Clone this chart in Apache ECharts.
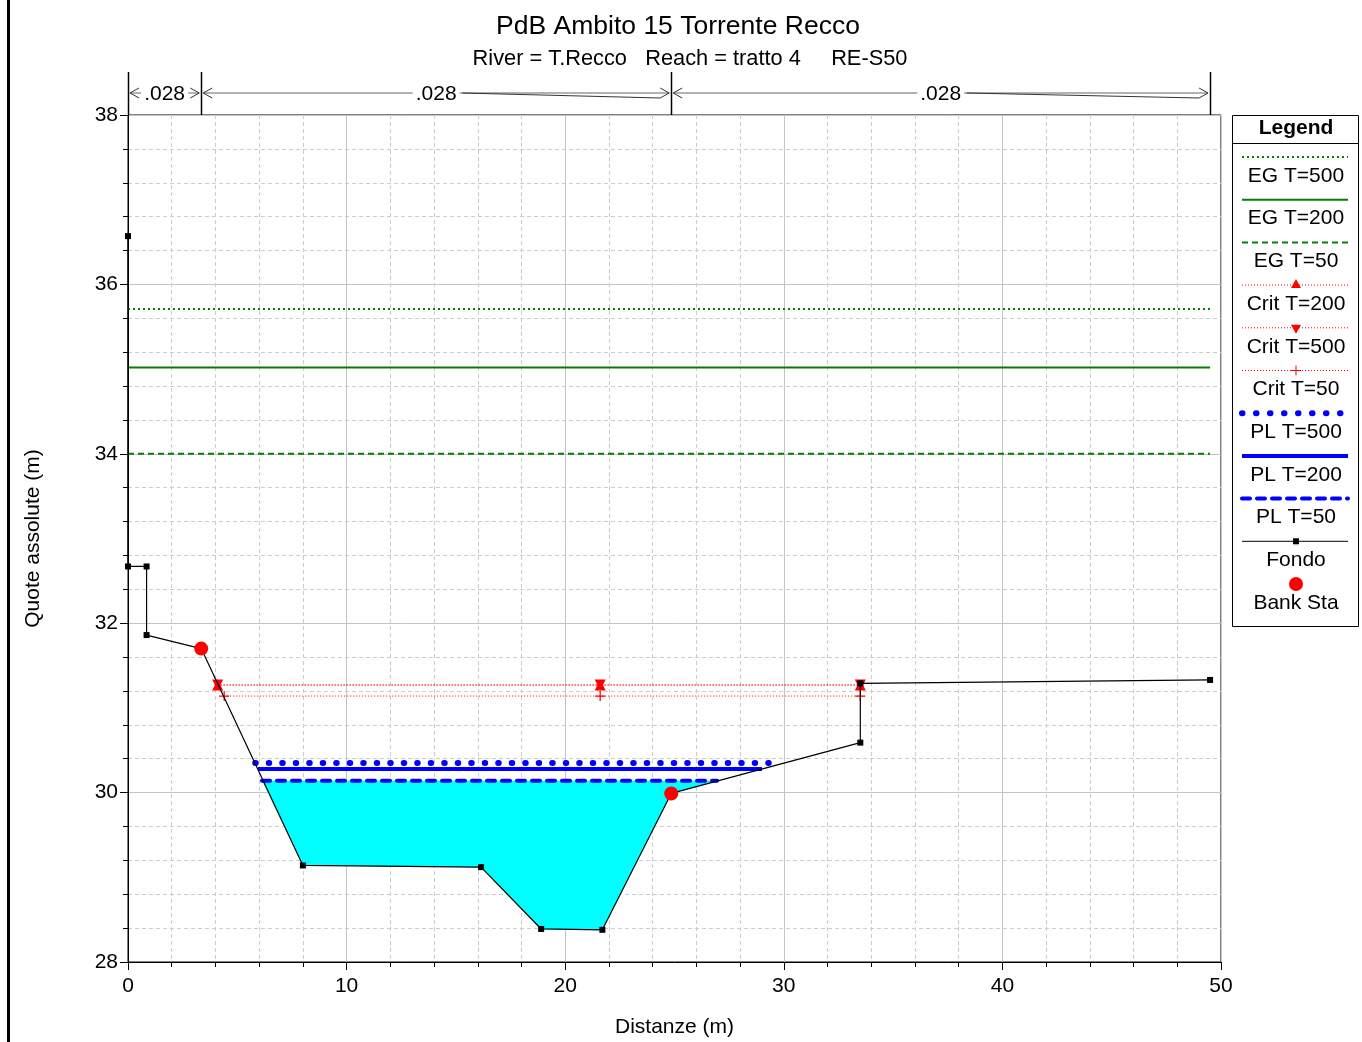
<!DOCTYPE html>
<html>
<head>
<meta charset="utf-8">
<title>PdB Ambito 15 Torrente Recco</title>
<script src="https://cdn.jsdelivr.net/npm/echarts@6.0.0/dist/echarts.min.js"></script>
<style>
  html, body { margin: 0; padding: 0; background: #fff; }
  #chart { width: 1362px; height: 1042px; }
</style>
</head>
<body>
<div id="chart"></div>
<script>
// sezione RE-S50, valori
var fondoX = [0, 0, 0.85, 0.85, 3.35, 8.0, 16.15, 18.9, 21.7, 24.85, 33.5, 33.5, 49.5];
var fondoY = [36.57, 32.67, 32.67, 31.86, 31.70, 29.14, 29.12, 28.39, 28.38, 29.99, 30.59, 31.29, 31.33];

var bankX = [3.35, 24.85];
var bankY = [31.70, 29.99];

var egX = [0, 49.5];
var eg500 = 35.71;
var eg200 = 35.02;
var eg50 = 34.00;

var critX = [4.1, 21.6, 33.5];
var crit50X = [4.4, 21.6, 33.5];
var crit200 = 31.27;
var crit500 = 31.27;
var crit50 = 31.14;

var pl500X = [5.82, 29.87];
var pl200X = [5.95, 29.0];
var pl50X = [6.13, 26.95];
var pl500 = 30.35;
var pl200 = 30.28;
var pl50 = 30.14;

// area bagnata (T=50)
var waterX = [6.13, 8.0, 16.15, 18.9, 21.7, 24.85, 26.95];
var waterY = [30.14, 29.14, 29.12, 28.39, 28.38, 29.99, 30.14];

// tratti di Manning
var nStations = [0, 3.35, 24.85, 49.5];
var nValues = ['.028', '.028', '.028'];

var legendNames = ['EG T=500', 'EG T=200', 'EG T=50', 'Crit T=200', 'Crit T=500', 'Crit T=50',
  'PL T=500', 'PL T=200', 'PL T=50', 'Fondo', 'Bank Sta'];

var FONT = 'Liberation Sans, Arial, sans-serif';
var FS = 21;
var GREEN = '#008000';
var RED = '#ff0000';
var BLUE = '#0000ff';
var PLUS = 'path://M3.5,0h1v3.5h3.5v1h-3.5v3.5h-1v-3.5h-3.5v-1h3.5z';

function pairs(xs, y) {
  return xs.map(function (x, i) { return [x, Array.isArray(y) ? y[i] : y]; });
}

var chart = echarts.init(document.getElementById('chart'));

var option = {
  animation: false,
  backgroundColor: '#fff',
  title: [{
    text: 'PdB Ambito 15 Torrente Recco',
    left: 673, top: 8, textAlign: 'center',
    textStyle: { fontFamily: FONT, fontSize: 26.5, fontWeight: 'normal', color: '#000' }
  }, {
    text: 'River = T.Recco   Reach = tratto 4     RE-S50',
    left: 685, top: 43, textAlign: 'center',
    textStyle: { fontFamily: FONT, fontSize: 21.8, fontWeight: 'normal', color: '#000' }
  }],
  grid: {
    left: 128, top: 115, width: 1093, height: 847,
    outerBoundsMode: 'none', containLabel: false,
    show: true, borderColor: '#000', borderWidth: 1
  },
  xAxis: {
    type: 'value', min: 0, max: 50, interval: 10,
    name: 'Distanze (m)', nameLocation: 'middle', nameGap: 55,
    nameTextStyle: { fontFamily: FONT, fontSize: FS, color: '#000' },
    axisLine: { show: true, onZero: false, lineStyle: { color: '#000', width: 1 } },
    axisTick: { show: true, length: 8, lineStyle: { color: '#000' } },
    minorTick: { show: true, splitNumber: 5, length: 5, lineStyle: { color: '#000' } },
    axisLabel: { fontFamily: FONT, fontSize: FS, color: '#000', margin: 14 },
    splitLine: { show: true, lineStyle: { color: '#c4c4c4', width: 1 } },
    minorSplitLine: { show: true, lineStyle: { color: '#cccccc', width: 1, type: [4, 3] } }
  },
  yAxis: {
    type: 'value', min: 28, max: 38, interval: 2,
    name: 'Quote assolute (m)', nameLocation: 'middle', nameGap: 84,
    nameTextStyle: { fontFamily: FONT, fontSize: FS, color: '#000' },
    axisLine: { show: true, onZero: false, lineStyle: { color: '#000', width: 1 } },
    axisTick: { show: true, length: 8, lineStyle: { color: '#000' } },
    minorTick: { show: true, splitNumber: 5, length: 5, lineStyle: { color: '#000' } },
    axisLabel: { fontFamily: FONT, fontSize: FS, color: '#000', margin: 10 },
    splitLine: { show: true, lineStyle: { color: '#c4c4c4', width: 1 } },
    minorSplitLine: { show: true, lineStyle: { color: '#cccccc', width: 1, type: [4, 3] } }
  },
  series: [{
    name: 'Area', type: 'custom', z: 1,
    data: pairs(waterX, waterY),
    renderItem: function (params, api) {
      if (params.dataIndex !== 0) return;
      var pts = waterX.map(function (x, i) { return api.coord([x, waterY[i]]); });
      return { type: 'polygon', shape: { points: pts }, style: { fill: '#00ffff' } };
    }
  }, {
    name: 'EG T=500', type: 'line', symbol: 'none', z: 3,
    data: pairs(egX, eg500),
    lineStyle: { color: GREEN, width: 2, type: [2, 3] }
  }, {
    name: 'EG T=200', type: 'line', symbol: 'none', z: 3,
    data: pairs(egX, eg200),
    lineStyle: { color: GREEN, width: 2 }
  }, {
    name: 'EG T=50', type: 'line', symbol: 'none', z: 3,
    data: pairs(egX, eg50),
    lineStyle: { color: GREEN, width: 2, type: [6, 4] }
  }, {
    name: 'Crit T=200', type: 'line', symbol: 'triangle', symbolSize: 11, z: 4,
    data: pairs(critX, crit200),
    itemStyle: { color: RED },
    lineStyle: { color: RED, width: 1, type: [1, 2] }
  }, {
    name: 'Crit T=500', type: 'line', symbol: 'triangle', symbolRotate: 180, symbolSize: 11, z: 4,
    data: pairs(critX, crit500),
    itemStyle: { color: RED },
    lineStyle: { color: RED, width: 1, type: [1, 2] }
  }, {
    name: 'Crit T=50', type: 'line', symbol: PLUS, symbolSize: 10, z: 4,
    data: pairs(crit50X, crit50),
    itemStyle: { color: RED },
    lineStyle: { color: RED, width: 1, type: [1, 2] }
  }, {
    name: 'PL T=500', type: 'line', symbol: 'none', z: 4,
    data: pairs(pl500X, pl500),
    lineStyle: { color: BLUE, width: 6, type: [0.5, 13], cap: 'round' }
  }, {
    name: 'PL T=200', type: 'line', symbol: 'none', z: 4,
    data: pairs(pl200X, pl200),
    lineStyle: { color: BLUE, width: 4 }
  }, {
    name: 'PL T=50', type: 'line', symbol: 'none', z: 4,
    data: pairs(pl50X, pl50),
    lineStyle: { color: BLUE, width: 4, type: [8, 7], cap: 'round' }
  }, {
    name: 'Fondo', type: 'line', symbol: 'rect', symbolSize: 6, showAllSymbol: true, z: 5,
    data: pairs(fondoX, fondoY),
    itemStyle: { color: '#000' },
    lineStyle: { color: '#000', width: 1.2 }
  }, {
    name: 'Bank Sta', type: 'scatter', symbol: 'circle', symbolSize: 14, z: 6,
    data: pairs(bankX, bankY),
    itemStyle: { color: RED, opacity: 1 }
  }]
};

chart.setOption(option);

// annotazioni sopra il grafico e legenda
var g = [];
var plotTop = 115;
var yArrow = 93;
function px(x) { return chart.convertToPixel({ gridIndex: 0 }, [x, 38])[0]; }
function seg(x1, y1, x2, y2, color, w) {
  g.push({ type: 'line', shape: { x1: x1, y1: y1, x2: x2, y2: y2 },
    style: { stroke: color, lineWidth: w || 1 }, z: 10 });
}

// bordo sinistro
seg(8.5, 0, 8.5, 1042, '#000', 3);

nStations.forEach(function (s) {
  var x = Math.round(px(s)) + 0.5;
  seg(x, 72, x, plotTop, '#000', 1.5);
});
nValues.forEach(function (v, i) {
  var x0 = px(nStations[i]);
  var x1 = px(nStations[i + 1]);
  var cx = (x0 + x1) / 2;
  seg(x0 + 2, yArrow, x1 - 2, yArrow, '#666', 1);
  seg(x0 + 11, yArrow - 5, x0 + 2, yArrow, '#333', 1);
  seg(x0 + 2, yArrow, x0 + 11, yArrow + 5, '#333', 1);
  seg(x1 - 11, yArrow - 5, x1 - 2, yArrow, '#333', 1);
  seg(x1 - 2, yArrow, x1 - 11, yArrow + 5, '#333', 1);
  if (x1 - x0 > 100) seg(cx + 26, yArrow, x1 - 11, yArrow + 5, '#333', 1);
  g.push({ type: 'text', z: 11, style: {
    text: v, x: cx, y: yArrow + 1, align: 'center', verticalAlign: 'middle',
    font: FS + 'px ' + FONT, fill: '#000', backgroundColor: '#fff', padding: [0, 3]
  } });
});

// legenda
var lx = 1232, ly = 115, lw = 126, lh = 511;
g.push({ type: 'rect', z: 10, shape: { x: lx + 0.5, y: ly + 0.5, width: lw, height: lh },
  style: { fill: '#fff', stroke: '#000', lineWidth: 1 } });
g.push({ type: 'text', z: 11, style: { text: 'Legend', x: lx + lw / 2 + 1, y: 128,
  align: 'center', verticalAlign: 'middle', font: 'bold 21px ' + FONT, fill: '#000' } });
seg(lx, 143.5, lx + lw, 143.5, '#000', 1);

var styles = [
  { stroke: GREEN, w: 2, dash: [2, 3] },
  { stroke: GREEN, w: 2 },
  { stroke: GREEN, w: 2, dash: [6, 4] },
  { stroke: RED, w: 1, dash: [1, 2], sym: 'tri' },
  { stroke: RED, w: 1, dash: [1, 2], sym: 'triDown' },
  { stroke: RED, w: 1, dash: [1, 2], sym: 'plus' },
  { stroke: BLUE, w: 6, dash: [0.5, 13.5], cap: 'round' },
  { stroke: BLUE, w: 4 },
  { stroke: BLUE, w: 4, dash: [8, 7], cap: 'round' },
  { stroke: '#000', w: 1, sym: 'rect' },
  { sym: 'circle' }
];
legendNames.forEach(function (name, i) {
  var sy = 157 + i * 42.7;
  var cx = lx + lw / 2 + 1;
  var st = styles[i];
  if (st.stroke) {
    g.push({ type: 'line', z: 11, shape: { x1: lx + 10, y1: sy, x2: lx + 116, y2: sy },
      style: { stroke: st.stroke, lineWidth: st.w, lineDash: st.dash || null, lineCap: st.cap || 'butt' } });
  }
  if (st.sym === 'tri') {
    g.push({ type: 'polygon', z: 12, shape: { points: [[cx, sy - 6], [cx - 5, sy + 3], [cx + 5, sy + 3]] },
      style: { fill: RED } });
  } else if (st.sym === 'triDown') {
    g.push({ type: 'polygon', z: 12, shape: { points: [[cx, sy + 6], [cx - 5, sy - 3], [cx + 5, sy - 3]] },
      style: { fill: RED } });
  } else if (st.sym === 'plus') {
    seg(cx - 5, sy, cx + 5, sy, RED, 1);
    seg(cx, sy - 5, cx, sy + 5, RED, 1);
  } else if (st.sym === 'rect') {
    g.push({ type: 'rect', z: 12, shape: { x: cx - 3, y: sy - 3, width: 6, height: 6 }, style: { fill: '#000' } });
  } else if (st.sym === 'circle') {
    g.push({ type: 'circle', z: 12, shape: { cx: cx, cy: sy, r: 7 }, style: { fill: RED } });
  }
  g.push({ type: 'text', z: 11, style: { text: name, x: cx, y: sy + 19,
    align: 'center', verticalAlign: 'middle', font: FS + 'px ' + FONT, fill: '#000' } });
});

chart.setOption({ graphic: g });
</script>
</body>
</html>
